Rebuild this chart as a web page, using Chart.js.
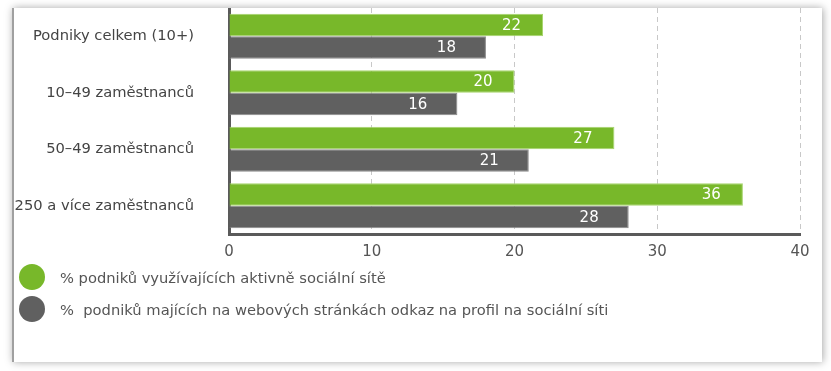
<!DOCTYPE html>
<html>
<head>
<meta charset="utf-8">
<script src="https://cdn.jsdelivr.net/npm/chart.js@4/dist/chart.umd.min.js"></script>
<style>
    html, body { margin: 0; padding: 0; background: #fff; }
    body { width: 831px; height: 371px; position: relative; overflow: hidden; font-family: "DejaVu Sans", sans-serif; }
    .card {
        position: absolute; left: 12px; top: 8px; width: 808px; height: 354px;
        background: #fff; border-left: 2px solid #a0a0a0;
        box-shadow: 1px 0 8px rgba(0, 0, 0, 0.35);
    }
    .chart-box { position: absolute; left: 0; top: 0; width: 808px; height: 270px; }
    .legend { position: absolute; left: 5px; top: 253px; }
    .legend-item { display: flex; align-items: center; height: 32px; color: #555; font-size: 14.7px; }
    .legend-dot { width: 26px; height: 26px; border-radius: 50%; margin-right: 15px; flex: none; }
</style>
</head>
<body>
<div class="card">
    <div class="chart-box"><canvas id="chart"></canvas></div>
    <div class="legend" id="legend"></div>
</div>
<script>
    "use strict";

    const categories = [
        "Podniky celkem (10+)",
        "10\u201349 zaměstnanců",
        "50\u201349 zaměstnanců",
        "250 a více zaměstnanců",
    ];
    const seriesNames = [
        "% podniků využívajících aktivně sociální sítě",
        "%  podniků majících na webových stránkách odkaz na profil na sociální síti",
    ];
    const activeValues = [22, 20, 27, 36];
    const linkValues = [18, 16, 21, 28];
    const xTicks = [0, 10, 20, 30, 40];

    const GREEN = "#78b82a";
    const GRAY = "#606060";
    const FONT = "DejaVu Sans";

    /**
     * Value labels drawn inside the end of each bar
     */
    const barLabels = {
        id: "barLabels",
        afterDatasetsDraw: function (chart) {
            const ctx = chart.ctx;
            ctx.save();
            ctx.font = "15px '" + FONT + "', sans-serif";
            ctx.fillStyle = "#fff";
            ctx.textAlign = "right";
            ctx.textBaseline = "middle";
            chart.data.datasets.forEach(function (ds, i) {
                const meta = chart.getDatasetMeta(i);
                const offset = i === 0 ? 22 : 30;
                meta.data.forEach(function (bar, j) {
                    ctx.fillText(String(ds.data[j]), bar.x - offset, bar.y + 1);
                });
            });
            ctx.restore();
        },
    };

    function initChart() {
        const ctx = document.getElementById("chart").getContext("2d");

        new Chart(ctx, {
            type: "bar",
            data: {
                labels: categories,
                datasets: [
                    {
                        label: seriesNames[0],
                        data: activeValues,
                        backgroundColor: GREEN,
                        borderColor: "#a6d46c",
                        borderWidth: 1,
                    },
                    {
                        label: seriesNames[1],
                        data: linkValues,
                        backgroundColor: GRAY,
                        borderColor: "#8a8a8a",
                        borderWidth: 1,
                    },
                ],
            },
            options: {
                indexAxis: "y",
                animation: false,
                responsive: true,
                maintainAspectRatio: false,
                layout: { padding: { top: 0, right: 22, bottom: 0, left: 0 } },
                datasets: {
                    bar: { categoryPercentage: 0.8, barPercentage: 1.0 },
                },
                plugins: {
                    legend: { display: false },
                    tooltip: { enabled: false },
                },
                scales: {
                    x: {
                        min: 0,
                        max: 40,
                        afterBuildTicks: function (scale) {
                            scale.ticks = xTicks.map(function (v) {
                                return { value: v };
                            });
                        },
                        afterFit: function (scale) {
                            scale.height = 44;
                        },
                        grid: {
                            color: "#c8c8c8",
                            lineWidth: 1,
                            drawTicks: false,
                        },
                        border: {
                            display: true,
                            color: "#5a5a5a",
                            width: 3,
                            dash: [5, 4],
                        },
                        ticks: {
                            padding: 9,
                            color: "#555",
                            font: { family: FONT, size: 15 },
                        },
                    },
                    y: {
                        afterFit: function (scale) {
                            // fixed label column, no extra vertical padding
                            scale.width = 215;
                            scale.paddingTop = 0;
                            scale.paddingBottom = 0;
                        },
                        grid: { display: false, drawTicks: false },
                        border: { display: true, color: "#5a5a5a", width: 3 },
                        ticks: {
                            padding: 35,
                            color: "#444",
                            font: { family: FONT, size: 14.7 },
                        },
                    },
                },
            },
            plugins: [barLabels],
        });
    }

    function buildLegend() {
        const el = document.getElementById("legend");
        const colors = [GREEN, GRAY];
        seriesNames.forEach(function (name, i) {
            const item = document.createElement("div");
            item.className = "legend-item";
            const dot = document.createElement("span");
            dot.className = "legend-dot";
            dot.style.background = colors[i];
            const txt = document.createElement("span");
            txt.textContent = name;
            txt.style.whiteSpace = "pre";
            item.appendChild(dot);
            item.appendChild(txt);
            el.appendChild(item);
        });
    }

    buildLegend();
    initChart();
</script>
</body>
</html>
